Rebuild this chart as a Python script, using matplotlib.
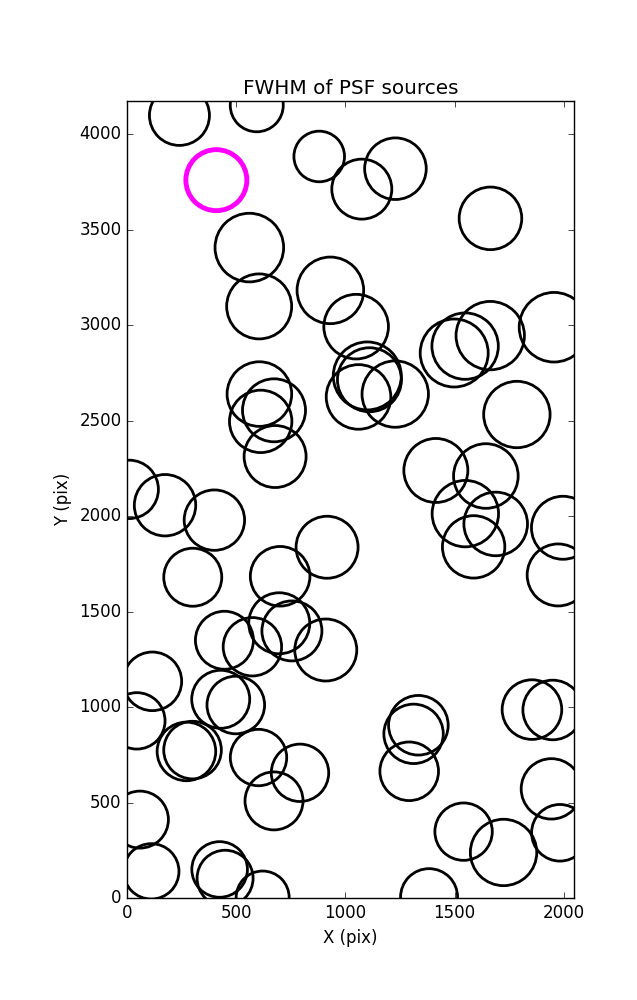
import numpy as np
import matplotlib
matplotlib.use('Agg')
import matplotlib.pyplot as plt

plt.style.use('classic')

# source positions (pix) and their FWHM-ish sizes
x = [240, 594, 880, 560, 605, 931, 1049, 1075, 1229, 1664,
     1955, 1663, 1548, 1498, 1100, 1110, 1060, 1228, 1785, 1414,
     1643, 1549, 1688, 1587, 1996, 1974, 916, 910, 606, 673,
     612, 678, 10, 174, 400, 301, 701, 697, 755, 446,
     574, 116, 45, 429, 498, 272, 300, 602, 792, 673,
     59, 111, 424, 449, 621, 1334, 1312, 1292, 1854, 1949,
     1943, 1982, 1541, 1724, 1383]
y = [4099, 4152, 3884, 3407, 3099, 3183, 2993, 3713, 3820, 3560,
     2990, 2946, 2891, 2855, 2735, 2715, 2625, 2640, 2533, 2240,
     2211, 2014, 1960, 1840, 1940, 1693, 1838, 1300, 2640, 2555,
     2497, 2313, 2141, 2058, 1980, 1681, 1686, 1440, 1400, 1351,
     1317, 1136, 929, 1042, 1012, 769, 776, 737, 657, 510,
     412, 141, 151, 105, 4, 906, 861, 665, 988, 986,
     573, 343, 349, 240, 6]
fwhm = [30.0, 26.5, 25.3, 34.3, 32.5, 33.3, 32.3, 30.0, 30.8, 31.3,
        34.8, 34.2, 33.2, 34.0, 34.0, 32.0, 32.3, 33.2, 33.2, 32.0,
        32.3, 33.2, 31.8, 31.2, 31.5, 31.0, 31.0, 31.0, 32.3, 31.5,
        31.2, 31.0, 29.2, 30.7, 30.2, 29.0, 29.8, 30.5, 30.0, 29.0,
        29.2, 29.3, 28.2, 29.0, 28.8, 29.3, 28.8, 28.2, 28.7, 29.0,
        28.5, 27.7, 27.8, 28.0, 26.5, 29.8, 29.7, 29.3, 29.8, 29.8,
        30.2, 28.3, 28.7, 33.2, 28.5]

# highlighted source
x_sel = [409]
y_sel = [3760]
fwhm_sel = [30.5]

def msize(f):
    return (2 * np.array(f) * 72.0 / 100.0) ** 2

fig = plt.figure(figsize=(6.37, 10), dpi=100, facecolor='white')
ax = fig.add_axes([0.1994, 0.1017, 0.7022, 0.7976])
ax.scatter(x, y, s=msize(fwhm), facecolors='none', edgecolors='k', linewidths=2)
ax.scatter(x_sel, y_sel, s=msize(fwhm_sel), facecolors='none', edgecolors='magenta', linewidths=3.5)
ax.set_xlim(0, 2048)
ax.set_ylim(0, 4176)
ax.set_xticks([0, 500, 1000, 1500, 2000])
ax.set_yticks(np.arange(0, 4001, 500))
ax.set_xlabel('X (pix)')
ax.set_ylabel('Y (pix)')
ax.set_title('FWHM of PSF sources')

fig.savefig('out.png', dpi=100, facecolor='white')
